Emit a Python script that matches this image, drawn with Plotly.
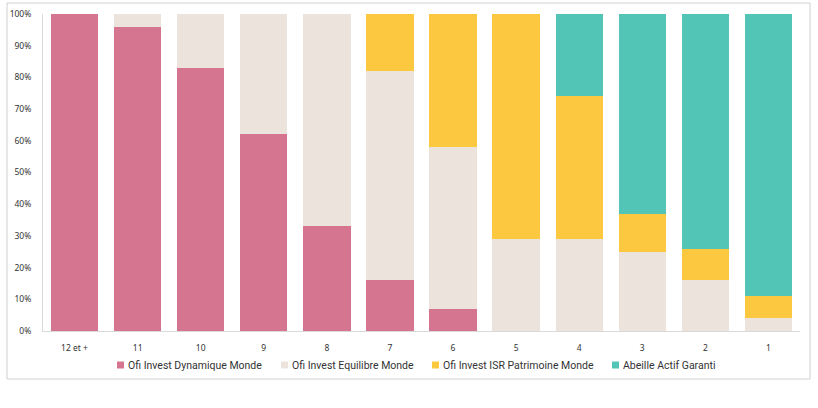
import plotly.graph_objects as go

categories = ["12 et +", "11", "10", "9", "8", "7", "6", "5", "4", "3", "2", "1"]
dynamique = [100, 96, 83, 62, 33, 16, 7, 0, 0, 0, 0, 0]
equilibre = [0, 4, 17, 38, 67, 66, 51, 29, 29, 25, 16, 4]
isr = [0, 0, 0, 0, 0, 18, 42, 71, 45, 12, 10, 7]
abeille = [0, 0, 0, 0, 0, 0, 0, 0, 26, 63, 74, 89]

series_names = ["Ofi Invest Dynamique Monde", "Ofi Invest Equilibre Monde",
                "Ofi Invest ISR Patrimoine Monde", "Abeille Actif Garanti"]
series_values = [dynamique, equilibre, isr, abeille]
series_colors = ["#D67590", "#EDE3DD", "#FCC83F", "#52C5B6"]

fig = go.Figure()
for name, vals, color in zip(series_names, series_values, series_colors):
    fig.add_trace(go.Bar(
        x=categories, y=vals, name=name,
        marker=dict(color=color, line=dict(width=0)),
        hoverinfo="x+y+name", showlegend=False,
    ))

W, H = 818, 408
ml, mr, mt, mb = 43, 18, 14, 77
pw = W - ml - mr
ph = H - mt - mb

def px(x):
    return (x - ml) / pw

def py(y):
    return (H - mb - y) / ph

# legend layout (pixel positions of swatches, from the reference)
legend_x = [117, 281, 432, 612]
legend_y = 365
sw = 7

shapes = [dict(
    type="rect", xref="paper", yref="paper",
    x0=px(7), x1=px(810), y0=py(379), y1=py(3),
    line=dict(color="#D0D0D0", width=1),
    fillcolor="rgba(0,0,0,0)", layer="below",
)]
annotations = []
for name, color, lx in zip(series_names, series_colors, legend_x):
    shapes.append(dict(
        type="rect", xref="paper", yref="paper",
        x0=px(lx), x1=px(lx + sw),
        y0=py(legend_y + sw / 2), y1=py(legend_y - sw / 2),
        line=dict(width=0), fillcolor=color,
    ))
    annotations.append(dict(
        xref="paper", yref="paper", x=px(lx + sw + 2), y=py(legend_y),
        xanchor="left", yanchor="middle", showarrow=False,
        text=name, font=dict(family="Roboto, sans-serif", size=10.5, color="#333333"),
    ))

fig.update_layout(
    width=W, height=H,
    margin=dict(l=ml, r=mr, t=mt, b=mb),
    barmode="stack",
    bargap=0.25,
    plot_bgcolor="white",
    paper_bgcolor="white",
    font=dict(family="Noto Sans, Open Sans, sans-serif", size=9, color="#333333"),
    showlegend=False,
    xaxis=dict(
        showgrid=False, automargin=False,
        showline=True, linecolor="#D9D9D9", linewidth=1,
        ticks="", tickfont=dict(size=8.5),
        ticklabelstandoff=9,
        zeroline=False,
    ),
    yaxis=dict(
        range=[0, 100], automargin=False,
        tickvals=list(range(0, 101, 10)),
        ticktext=[f"{v}%" for v in range(0, 101, 10)],
        showgrid=False,
        showline=True, linecolor="#D9D9D9", linewidth=1,
        ticks="",
        tickfont=dict(size=8.5),
        ticklabelstandoff=9,
        zeroline=False,
    ),
    shapes=shapes,
    annotations=annotations,
)

fig.write_html("out.html")
